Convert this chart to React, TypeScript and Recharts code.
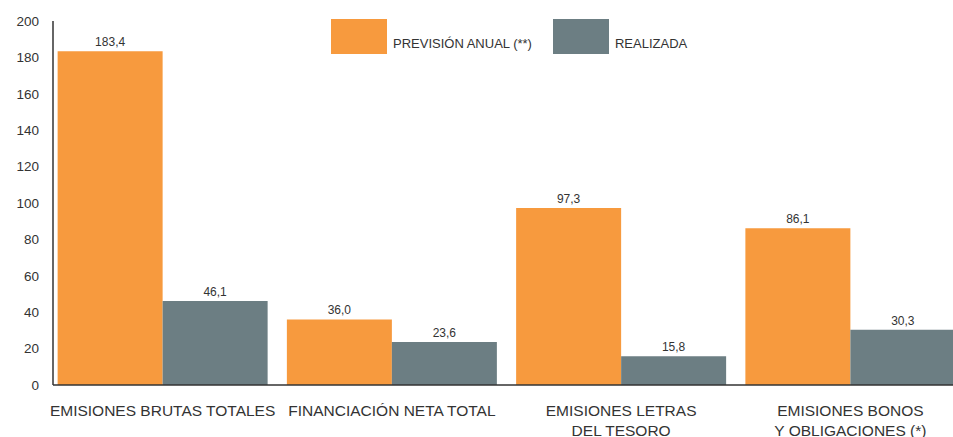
import { BarChart, Bar, XAxis, YAxis, LabelList } from 'recharts';

const categories = [
  ['EMISIONES BRUTAS TOTALES'],
  ['FINANCIACIÓN NETA TOTAL'],
  ['EMISIONES LETRAS', 'DEL TESORO'],
  ['EMISIONES BONOS', 'Y OBLIGACIONES (*)'],
];
const prevision = [183.4, 36.0, 97.3, 86.1];
const realizada = [46.1, 23.6, 15.8, 30.3];
const yTicks = [0, 20, 40, 60, 80, 100, 120, 140, 160, 180, 200];
const seriesNames = ['PREVISIÓN ANUAL (**)', 'REALIZADA'];

const COLORS = ['#F79A3E', '#6C7E83'];
const FONT = '"Liberation Sans", Arial, sans-serif';
const TEXT = '#333';

const data = categories.map((lines, i) => ({
  name: lines.join('\n'),
  prevision: prevision[i],
  realizada: realizada[i],
}));

const fmt = (v: any) => Number(v).toFixed(1).replace('.', ',');

function CategoryTick({ x, y, payload }: any) {
  const lines = String(payload.value).split('\n');
  return (
    <text x={x} y={y} textAnchor="middle" fill={TEXT} fontSize={15.5} fontFamily={FONT}>
      {lines.map((l, i) => (
        <tspan key={i} x={x} dy={i === 0 ? 23 : 19.5}>
          {l}
        </tspan>
      ))}
    </text>
  );
}

export default function App() {
  return (
    <div style={{ position: 'absolute', left: 0, top: 0, width: 953, height: 437, overflow: 'hidden', fontFamily: FONT }}>
      <div style={{ position: 'absolute', left: 8, top: 8 }}>
        <BarChart
          width={957}
          height={429}
          data={data}
          margin={{ top: 13, right: 0, bottom: 0, left: 0 }}
          barGap={0}
          barCategoryGap="4.2%"
        >
          <XAxis
            dataKey="name"
            interval={0}
            height={52}
            padding={{ left: -5, right: 0 }}
            axisLine={{ stroke: '#333', strokeWidth: 1.5 }}
            tickLine={false}
            tick={<CategoryTick />}
          />
          <YAxis
            width={45}
            domain={[0, 200]}
            ticks={yTicks}
            interval={0}
            axisLine={{ stroke: '#333', strokeWidth: 1.5 }}
            tickLine={false}
            tickSize={6}
            tickMargin={8}
            tick={{ fill: TEXT, fontSize: 13.5, fontFamily: FONT }}
          />
          <Bar dataKey="prevision" fill={COLORS[0]} isAnimationActive={false}>
            <LabelList dataKey="prevision" position="top" formatter={fmt} fill={TEXT} fontSize={12} fontFamily={FONT} />
          </Bar>
          <Bar dataKey="realizada" fill={COLORS[1]} isAnimationActive={false}>
            <LabelList dataKey="realizada" position="top" formatter={fmt} fill={TEXT} fontSize={12} fontFamily={FONT} />
          </Bar>
        </BarChart>
      </div>
      <div style={{ position: 'absolute', left: 331, top: 19, display: 'flex', alignItems: 'flex-end' }}>
        {seriesNames.map((n, i) => (
          <div key={n} style={{ display: 'flex', alignItems: 'flex-end', marginRight: i === 0 ? 21 : 0 }}>
            <div style={{ width: 56, height: 35, background: COLORS[i] }} />
            <span style={{ marginLeft: 6, fontSize: 13, color: TEXT, lineHeight: '14px', marginBottom: 3 }}>{n}</span>
          </div>
        ))}
      </div>
    </div>
  );
}
